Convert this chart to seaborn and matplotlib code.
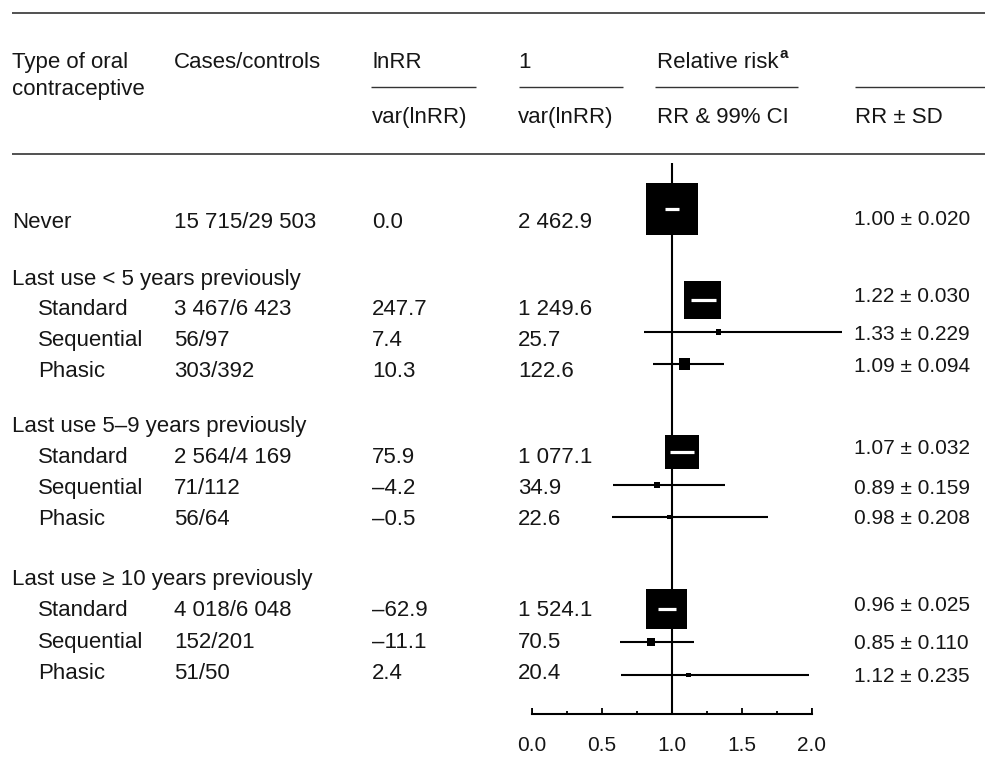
import matplotlib
matplotlib.use("Agg")
import matplotlib.pyplot as plt
import numpy as np
import pandas as pd
import seaborn as sns

# ---- table data -----------------------------------------------------------
oc_type = ["Never", "Standard", "Sequential", "Phasic",
           "Standard", "Sequential", "Phasic",
           "Standard", "Sequential", "Phasic"]
group_titles = ["Last use < 5 years previously",
                "Last use 5\u20139 years previously",
                "Last use \u2265 10 years previously"]
row_group = [-1, 0, 0, 0, 1, 1, 1, 2, 2, 2]
cases_controls = ["15 715/29 503", "3 467/6 423", "56/97", "303/392",
                  "2 564/4 169", "71/112", "56/64",
                  "4 018/6 048", "152/201", "51/50"]
ln_rr_over_var = [0.0, 247.7, 7.4, 10.3, 75.9, -4.2, -0.5, -62.9, -11.1, 2.4]
inv_var = [2462.9, 1249.6, 25.7, 122.6, 1077.1, 34.9, 22.6, 1524.1, 70.5, 20.4]
rr = [1.00, 1.22, 1.33, 1.09, 1.07, 0.89, 0.98, 0.96, 0.85, 1.12]
sd = [0.020, 0.030, 0.229, 0.094, 0.032, 0.159, 0.208, 0.025, 0.110, 0.235]
ci_low = [0.949, 1.134, 0.800, 0.864, 0.989, 0.575, 0.570, 0.899, 0.625, 0.633]
ci_high = [1.053, 1.312, 2.211, 1.375, 1.157, 1.376, 1.685, 1.025, 1.155, 1.981]
axis_ticks = [0.0, 0.5, 1.0, 1.5, 2.0]

# ---- page layout (pixels, y downwards) ------------------------------------
W, H = 985, 760
RULE_Y = [13, 154]
HEAD_Y = [60, 87, 115]
TITLE_Y = [277, 424, 577]
TEXT_Y = [220, 307, 338, 369, 455, 486, 517, 608, 640, 671]
MARK_Y = [209, 300, 332, 364, 452, 485, 517, 609, 642, 675]
RR_TEXT_Y = [218, 295, 333, 365, 447, 487, 517, 604, 642, 675]
COL_X = [12, 174, 372, 518, 657, 855]
INDENT_X = 38
AX_LEFT, AX_RIGHT, AX_Y = 532, 812, 714
REF_TOP = 163
BIG_BOX_PX = 52

sns.set_theme(style="white")
plt.rcParams["font.family"] = ["Liberation Sans", "DejaVu Sans"]
INK = "#161616"
FS = 16
FS_RR = 15

fig = plt.figure(figsize=(W / 100, H / 100), dpi=100)
tab = fig.add_axes([0, 0, 1, 1])
tab.set_xlim(0, W)
tab.set_ylim(H, 0)
tab.axis("off")


def put(x, yc, s, size=FS, **kw):
    # place text so that the middle of the capitals sits on yc
    cap = 0.716 * size * 100 / 72
    tab.text(x, yc + cap / 2, s, fontsize=size, color=INK, va="baseline", **kw)


# rules
for y in RULE_Y:
    tab.plot([12, W], [y, y], color="#333333", lw=1.2, solid_capstyle="butt")

# column headings
put(COL_X[0], HEAD_Y[0], "Type of oral")
put(COL_X[0], HEAD_Y[1], "contraceptive")
put(COL_X[1], HEAD_Y[0], "Cases/controls")
put(COL_X[2], HEAD_Y[0], "lnRR")
put(COL_X[3], HEAD_Y[0], "1")
put(COL_X[2], HEAD_Y[2], "var(lnRR)")
put(COL_X[3], HEAD_Y[2], "var(lnRR)")
put(COL_X[4], HEAD_Y[2], "RR & 99% CI")
put(COL_X[5], HEAD_Y[2], "RR \u00b1 SD")
cap = 0.716 * FS * 100 / 72
rt = tab.text(COL_X[4], HEAD_Y[0] + cap / 2, "Relative risk", fontsize=FS,
              color=INK, va="baseline")
fig.canvas.draw()
bb = rt.get_window_extent(fig.canvas.get_renderer())
tab.text(bb.x1 + 1.5, HEAD_Y[0] - 2, "a", fontsize=11, fontweight="bold",
         color=INK, va="baseline")
for x0, x1 in [(371, 476), (519, 623), (655, 798), (855, W)]:
    tab.plot([x0, x1], [HEAD_Y[1], HEAD_Y[1]], color="#333333", lw=1.0,
             solid_capstyle="butt")


def fmt_num(v):
    s = f"{v:,.1f}".replace(",", " ")
    return s.replace("-", "\u2013")


# body of the table
for g, y in zip(group_titles, TITLE_Y):
    put(COL_X[0], y, g)
for i in range(len(oc_type)):
    y = TEXT_Y[i]
    put(COL_X[0] if row_group[i] < 0 else INDENT_X, y, oc_type[i])
    put(COL_X[1], y, cases_controls[i])
    put(COL_X[2], y, fmt_num(ln_rr_over_var[i]))
    put(COL_X[3], y, fmt_num(inv_var[i]))
    put(COL_X[5] - 1, RR_TEXT_Y[i], f"{rr[i]:.2f} \u00b1 {sd[i]:.3f}", size=FS_RR)

# ---- forest plot -----------------------------------------------------------
ax = fig.add_axes([AX_LEFT / W, (H - AX_Y) / H, (AX_RIGHT - AX_LEFT) / W, AX_Y / H])
ax.set_xlim(axis_ticks[0], axis_ticks[-1])
ax.set_ylim(AX_Y, 0)
ax.patch.set_alpha(0)
for side in ("top", "left", "right"):
    ax.spines[side].set_visible(False)
ax.spines["bottom"].set_color("black")
ax.spines["bottom"].set_linewidth(1.5)
ax.set_yticks([])
ax.set_xticks(axis_ticks)
ax.set_xticklabels([f"{t:.1f}" for t in axis_ticks], fontsize=15, color=INK)
ax.set_xticks([0.25, 0.75, 1.25, 1.75], minor=True)
ax.tick_params(axis="x", which="major", direction="in", length=4.5, width=1.3,
               color="black", pad=16, bottom=True)
ax.tick_params(axis="x", which="minor", direction="in", length=2.2, width=1.3,
               color="black", bottom=True)
ax.vlines([axis_ticks[0], axis_ticks[-1]], AX_Y - 6, AX_Y, color="black", lw=1.3)

px_per_unit = (AX_RIGHT - AX_LEFT) / (axis_ticks[-1] - axis_ticks[0])
wmax = max(inv_var)

# line of no effect
ax.vlines(1.0, REF_TOP, AX_Y, color="black", lw=1.5, zorder=2)

# confidence intervals: black where they reach beyond the square,
# white inside the square otherwise
for i in range(len(rr)):
    half = BIG_BOX_PX * np.sqrt(inv_var[i] / wmax) / 2 / px_per_unit
    inside = (ci_low[i] > rr[i] - half) and (ci_high[i] < rr[i] + half)
    if inside:
        ax.hlines(MARK_Y[i], ci_low[i], ci_high[i], color="white", lw=2.3,
                  zorder=5, clip_on=False)
    else:
        ax.hlines(MARK_Y[i], ci_low[i], ci_high[i], color="black", lw=1.5,
                  zorder=2, clip_on=False)

# squares with area proportional to the weight 1/var(lnRR)
df = pd.DataFrame({"rr": rr, "y": MARK_Y, "w": inv_var})
side_pt = BIG_BOX_PX * 72 / 100
sns.scatterplot(data=df, x="rr", y="y", size="w", sizes=(0, side_pt ** 2),
                size_norm=(0, wmax), marker="s", color="black", linewidth=0,
                edgecolor="none", legend=False, ax=ax, zorder=3, clip_on=False)
ax.set_xlabel("")
ax.set_ylabel("")

fig.savefig("out.png", dpi=100)
